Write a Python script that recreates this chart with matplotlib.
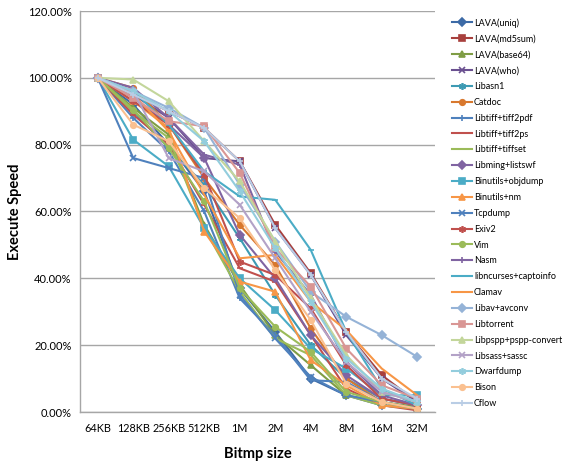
import numpy as np
import matplotlib
matplotlib.use("Agg")
import matplotlib.pyplot as plt

plt.rcParams['font.family'] = ['Lato', 'DejaVu Sans']

# ---------------- data ----------------
sizes = ["64KB", "128KB", "256KB", "512KB", "1M", "2M", "4M", "8M", "16M", "32M"]

names = ["LAVA(uniq)", "LAVA(md5sum)", "LAVA(base64)", "LAVA(who)", "Libasn1",
         "Catdoc", "Libtiff+tiff2pdf", "Libtiff+tiff2ps", "Libtiff+tiffset",
         "Libming+listswf", "Binutils+objdump", "Binutils+nm", "Tcpdump", "Exiv2",
         "Vim", "Nasm", "libncurses+captoinfo", "Clamav", "Libav+avconv",
         "Libtorrent", "Libpspp+pspp-convert", "Libsass+sassc", "Dwarfdump",
         "Bison", "Cflow"]

lava_uniq   = [100, 92, 80, 66, 37, 24, 10, 5, 2, 1]
lava_md5sum = [100, 95, 90, 85, 75, 56, 41.5, 24, 11, 3]
lava_base64 = [100, 91, 83, 56, 38, 23, 14, 5, 3, 1.5]
lava_who    = [100, 95, 88, 76, 75, 55, 41, 23, 10, 3]
libasn1     = [100, 90, 79, 68, 52, 35, 20, 10, 4, 2]
catdoc      = [100, 97, 86, 70, 56, 44, 25, 10, 3, 1]
tiff2pdf    = [100, 88, 78, 60, 34, 23, 9.5, 9, 3, 1]
tiff2ps     = [100, 89, 80, 62, 43, 39, 23, 7, 2, 0.5]
tiffset     = [100, 90, 82, 55, 36, 22, 17, 5, 2, 1]
libming     = [100, 94, 86, 76, 53, 40, 23, 11, 4, 2]
objdump     = [100, 81.5, 73.5, 55, 40, 30.5, 19, 13, 5, 5]
binutils_nm = [100, 93, 85, 54, 39, 36, 15.5, 8, 2, 1]
tcpdump     = [100, 76, 73, 70, 35, 22, 10.5, 5, 3, 1]
exiv2       = [100, 93, 86, 71, 45, 41, 31, 14, 4, 2]
vim         = [100, 90.5, 79, 63, 37, 25.5, 18, 6, 3, 1]
nasm        = [100, 97, 88, 77, 74, 48, 35, 15, 5, 2]
libncurses  = [100, 96, 86, 72, 64.5, 63.5, 48.5, 24, 7, 2]
clamav      = [100, 95, 84, 65, 46, 47, 33, 24.5, 13, 5]
libav       = [100, 96, 91, 85, 68, 51, 36, 28.5, 23, 16.5]
libtorrent  = [100, 94, 87, 85.5, 71.5, 49, 37.5, 19, 8, 4]
libpspp     = [100, 99.5, 93, 81, 69, 51, 34, 17, 6, 3]
libsass     = [100, 96, 76, 72, 62, 46, 30, 15, 6, 3]
dwarfdump   = [100, 96, 90, 81, 66, 49, 33, 16, 7, 3]
bison       = [100, 86, 81, 67, 58, 42.5, 27.5, 8.5, 3, 1]
cflow       = [100, 95, 90, 85, 75, 55, 41, 24, 10, 4]

series = [lava_uniq, lava_md5sum, lava_base64, lava_who, libasn1, catdoc,
          tiff2pdf, tiff2ps, tiffset, libming, objdump, binutils_nm, tcpdump,
          exiv2, vim, nasm, libncurses, clamav, libav, libtorrent, libpspp,
          libsass, dwarfdump, bison, cflow]

# ---------------- styles ----------------
colors = ["#3C6AA6", "#A8403D", "#7F9D45", "#6A5090", "#3D9AB3", "#D8782E",
          "#4F81BD", "#C0504D", "#9BBB59", "#8064A2", "#4BACC6", "#F79646",
          "#4F81BD", "#C0504D", "#9BBB59", "#8064A2", "#4BACC6", "#F79646",
          "#95B3D7", "#D99694", "#C3D69B", "#B3A2C7", "#93CDDD", "#FAC090",
          "#B9CDE5"]
markers = ["D", "s", "^", "x", (6, 2, 0), "o", "+", "_", "_", "D", "s", "^",
           "x", (6, 2, 0), "o", "+", "_", "None", "D", "s", "^", "x",
           (6, 2, 0), "o", "+"]

# ---------------- plot ----------------
fig = plt.figure(figsize=(5.65, 4.61), dpi=100)
ax = fig.add_axes([80 / 565, 1 - 412 / 461, 355 / 565, 401 / 461])

x = np.arange(len(sizes))
for name, vals, c, m in zip(names, series, colors, markers):
    ms = 4 if m in ("D", "s", "o", "^") else 5
    ax.plot(x, vals, color=c, marker=m, markersize=ms, markeredgewidth=1.2,
            linewidth=1.5, label=name)

ax.set_xlim(-0.5, len(sizes) - 0.5)
ax.set_ylim(0, 120)
ax.set_yticks(np.arange(0, 121, 20))
ax.set_yticklabels([f"{v:.2f}%" for v in np.arange(0, 121, 20)], fontsize=8)
ax.set_xticks(x)
ax.set_xticklabels(sizes, fontsize=7.8)
ax.tick_params(axis="x", length=0, pad=8)
ax.tick_params(axis="y", length=0, pad=6)
ax.yaxis.grid(True, color="#A6A6A6", linewidth=1.0)
ax.set_axisbelow(True)
for s in ("top", "right"):
    ax.spines[s].set_visible(False)
for s in ("left", "bottom"):
    ax.spines[s].set_color("#A6A6A6")
    ax.spines[s].set_linewidth(1.0)

ax.set_xlabel("Bitmp size", fontsize=10.5, fontweight="bold", labelpad=9)
ax.set_ylabel("Execute Speed", fontsize=10.5, fontweight="bold", labelpad=4)

fig.legend(loc="upper left", bbox_to_anchor=(452 / 565, 1 - 18 / 461),
           frameon=False, fontsize=6.5, handlelength=2.2, handletextpad=0.25,
           labelspacing=0.76, borderaxespad=0, borderpad=0)

fig.savefig("out.png", dpi=100)
